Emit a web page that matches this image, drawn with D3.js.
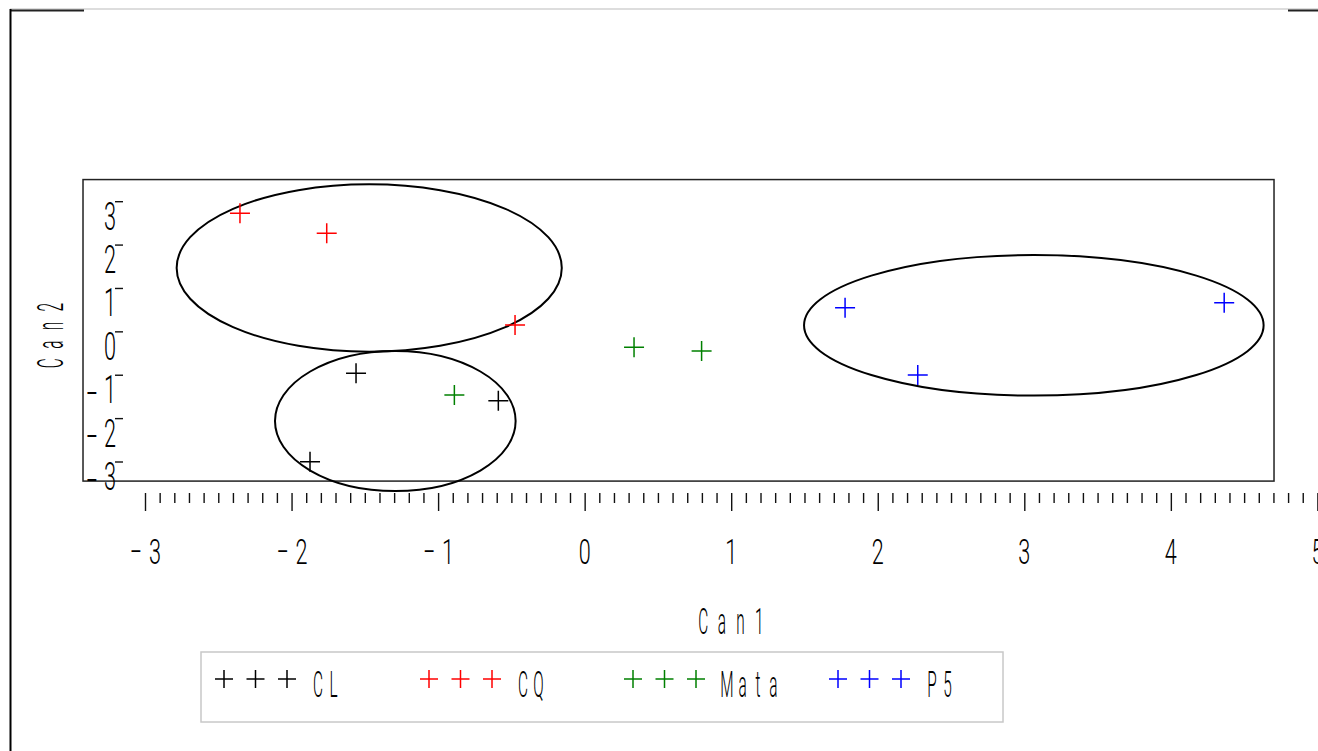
<!DOCTYPE html>
<html><head><meta charset="utf-8">
<script src="https://cdn.jsdelivr.net/npm/d3@7"></script>
<style>html,body{margin:0;padding:0;background:#fff;overflow:hidden}</style>
</head><body>
<svg id="c" width="1318" height="751"></svg>
<script>
// ---- data ----
const groups = ["CL", "CQ", "Mata", "P5"];
const groupColors = ["#000000", "#ff0000", "#008000", "#0000ff"];
const clCan1 = [-1.560, -0.589, -1.874];
const clCan2 = [-0.955, -1.587, -2.993];
const cqCan1 = [-2.352, -1.760, -0.475];
const cqCan2 = [2.733, 2.272, 0.158];
const mataCan1 = [-0.889, 0.337, 0.798];
const mataCan2 = [-1.456, -0.356, -0.441];
const p5Can1 = [1.777, 4.364, 2.273];
const p5Can2 = [0.557, 0.672, -0.995];
// confidence ellipses (center, half-axes) for CL, CQ, P5
const ellipseGroups = ["CL", "CQ", "P5"];
const ellipseCx = [-1.292, -1.470, 3.065];
const ellipseCy = [-2.055, 1.472, 0.151];
const ellipseRx = [0.821, 1.314, 1.568];
const ellipseRy = [1.614, 1.929, 1.620];
const xTicks = [-3, -2, -1, 0, 1, 2, 3, 4, 5];
const yTicks = [-3, -2, -1, 0, 1, 2, 3];
const xLabel = "Can1";
const yLabel = "Can2";

// ---- setup ----
const svg = d3.select("#c");
const x = d3.scaleLinear().domain([-3, 5]).range([145, 1317.4]);
const y = d3.scaleLinear().domain([-3, 3]).range([462, 201.7]);
const boxX = [-3.423, 4.704];
const boxY = [-3.44, 3.51];
const FONT = "Roboto, 'DejaVu Sans', sans-serif";

// condensed text helper: per-char centres, horizontal squeeze
function label(parent, str, cx, baseY, size, sx, pitch, color) {
  const chars = Array.from(str);
  const n = chars.length;
  const xs = chars.map((c, i) => ((i - (n - 1) / 2) * pitch / sx).toFixed(2)).join(" ");
  return parent.append("text")
    .attr("transform", `translate(${cx},${baseY}) scale(${sx},1)`)
    .attr("x", xs)
    .attr("y", 0)
    .attr("text-anchor", "middle")
    .attr("font-family", FONT)
    .attr("font-weight", 300)
    .attr("font-size", size)
    .attr("fill", color || "#000")
    .text(str);
}

// ---- outer frame ----
svg.append("line").attr("x1", 10).attr("x2", 1318).attr("y1", 9).attr("y2", 9)
  .attr("stroke", "#bbb").attr("stroke-width", 1);
svg.append("line").attr("x1", 10).attr("x2", 84).attr("y1", 10.5).attr("y2", 10.5)
  .attr("stroke", "#222").attr("stroke-width", 2);
svg.append("line").attr("x1", 1288).attr("x2", 1318).attr("y1", 10.5).attr("y2", 10.5)
  .attr("stroke", "#222").attr("stroke-width", 2);
svg.append("line").attr("x1", 10.5).attr("x2", 10.5).attr("y1", 9).attr("y2", 751)
  .attr("stroke", "#000").attr("stroke-width", 2);

// ---- plot box ----
svg.append("rect")
  .attr("x", x(boxX[0])).attr("y", y(boxY[1]))
  .attr("width", x(boxX[1]) - x(boxX[0])).attr("height", y(boxY[0]) - y(boxY[1]))
  .attr("fill", "none").attr("stroke", "#222").attr("stroke-width", 1.5);

// ---- x axis (ticks hanging below the box) ----
const axisY = 493;
const minorTicks = d3.range(-30, 51).map(i => i / 10).filter(v => Math.abs(v - Math.round(v)) > 1e-6);
const gMinor = svg.append("g").attr("transform", `translate(0,${axisY})`)
  .call(d3.axisBottom(x).tickValues(minorTicks).tickSize(10).tickFormat(""));
const gMajor = svg.append("g").attr("transform", `translate(0,${axisY})`)
  .call(d3.axisBottom(x).tickValues(xTicks).tickSize(18).tickFormat(""));
[gMinor, gMajor].forEach(g => {
  g.select(".domain").remove();
  g.selectAll(".tick line").attr("stroke", "#111").attr("stroke-width", 1.4);
});
xTicks.forEach(v => {
  const s = v < 0 ? "\u2212" + Math.abs(v) : String(v);
  label(svg, s, x(v) + (v < 0 ? 0.5 : 0), 564, 36, 0.6, 19);
});
label(svg, xLabel, x(1), 634, 36.6, 0.42, 18.7);

// ---- y axis (labels inside the box) ----
yTicks.forEach(v => {
  const ty = y(v);
  // digit with its top at the tick
  label(svg, String(Math.abs(v)), 110, ty + 28, 39.4, 0.55, 0);
  if (v < 0) {
    // minus sign drawn lower than the digit centre
    label(svg, "\u2212", 92, ty + 28 + 3.5, 39.4, 0.55, 0);
  }
  svg.append("line").attr("x1", 115).attr("x2", 123).attr("y1", ty).attr("y2", ty)
    .attr("stroke", "#111").attr("stroke-width", 1.4);
});
const yl = svg.append("g").attr("transform", `translate(63,${y(-0.08)}) rotate(-90)`);
label(yl, yLabel, 0, 0, 36.6, 0.42, 18.7);

// ---- ellipses ----
svg.append("g").selectAll("ellipse")
  .data(ellipseGroups.map((g, i) => ({ g, cx: ellipseCx[i], cy: ellipseCy[i], rx: ellipseRx[i], ry: ellipseRy[i] })))
  .join("ellipse")
  .attr("cx", d => x(d.cx)).attr("cy", d => y(d.cy))
  .attr("rx", d => x(d.cx + d.rx) - x(d.cx))
  .attr("ry", d => y(d.cy) - y(d.cy + d.ry))
  .attr("fill", "none").attr("stroke", "#000").attr("stroke-width", 2);

// ---- points ----
const series = [
  { name: "CL", xs: clCan1, ys: clCan2 },
  { name: "CQ", xs: cqCan1, ys: cqCan2 },
  { name: "Mata", xs: mataCan1, ys: mataCan2 },
  { name: "P5", xs: p5Can1, ys: p5Can2 }
];
const pts = [];
series.forEach((s, si) => s.xs.forEach((v, i) => pts.push({ x: v, y: s.ys[i], c: groupColors[si] })));
const plus = "M-10,0H10M0,-10V10";
svg.append("g").selectAll("path").data(pts).join("path")
  .attr("d", plus)
  .attr("transform", d => `translate(${x(d.x)},${y(d.y)})`)
  .attr("fill", "none").attr("stroke", d => d.c).attr("stroke-width", 1.5);

// ---- legend ----
svg.append("rect").attr("x", 201).attr("y", 652).attr("width", 802).attr("height", 70)
  .attr("fill", "none").attr("stroke", "#c8c8c8").attr("stroke-width", 1.5);
const legStart = [224, 429, 633, 838];
groups.forEach((g, i) => {
  for (let k = 0; k < 3; k++) {
    svg.append("path").attr("d", "M-9,0H9M0,-9V9")
      .attr("transform", `translate(${legStart[i] + k * 31.5},679)`)
      .attr("fill", "none").attr("stroke", groupColors[i]).attr("stroke-width", 1.5);
  }
  const pitch = 15.5;
  const first = legStart[i] + 63 + 31;
  const cx = first + (g.length - 1) * pitch / 2;
  label(svg, g, cx, 697, 36.6, 0.42, pitch);
});
</script>
</body></html>
